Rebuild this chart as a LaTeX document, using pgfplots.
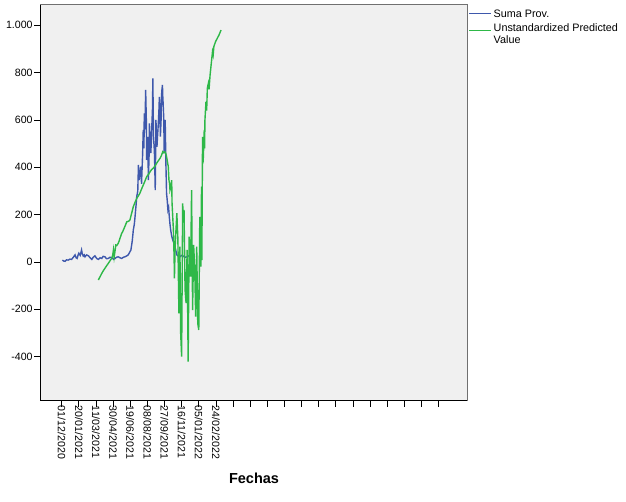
\documentclass[border=0pt]{standalone}
\usepackage{pgfplots}
\pgfplotsset{compat=1.18}
\usepackage{fontspec}
\setmainfont{Liberation Sans}
\definecolor{spssblue}{RGB}{62,88,172}
\definecolor{spssgreen}{RGB}{46,184,72}
\definecolor{plotbg}{RGB}{240,240,240}
\definecolor{framegray}{RGB}{112,112,112}
\pgfplotsset{
  bluelegend/.style={legend image code/.code={\draw[##1, line width=0.8pt] (0pt,1pt) -- (22pt,1pt);}},
  greenlegend/.style={legend image code/.code={\draw[##1, line width=0.8pt] (0pt,4pt) -- (22pt,4pt);}},
}
\begin{document}
\begin{tikzpicture}[x=1pt,y=1pt]
\path[use as bounding box] (0,0) rectangle (626,501);
\begin{axis}[
  at={(40.3pt,100.3pt)}, anchor=south west,
  scale only axis, width=427.4pt, height=396pt,
  xmin=-62.4, xmax=1184.7, ymin=-586, ymax=1087,
  axis lines*=left,
  axis line style={black, line width=0.8pt},
  axis background/.style={fill=plotbg},
  tick align=outside, major tick length=6pt,
  tick style={black, line width=0.8pt},
  xtick={0,50,...,1100},
  xticklabels={01/12/2020,20/01/2021,11/03/2021,30/04/2021,19/06/2021,08/08/2021,27/09/2021,16/11/2021,05/01/2022,24/02/2022},
  ytick={-400,-200,0,200,400,600,800,1000},
  yticklabels={-400,-200,0,200,400,600,800,1.000},
  tick label style={font=\fontsize{10.6}{12}\selectfont},
  xticklabel style={rotate=-90, anchor=west, inner sep=1pt, xshift=-2pt},
  yticklabel style={inner sep=1.5pt},
  xlabel={Fechas},
  xlabel style={font=\bfseries\fontsize{14.5}{16}\selectfont, at={(axis description cs:0.5,0)}, anchor=center, yshift=-77.3pt},
  legend style={at={(axis description cs:1,1)}, anchor=north west, draw=none, fill=none,
     font=\fontsize{10.8}{11.7}\selectfont, inner xsep=0pt, inner ysep=0pt, xshift=1pt, yshift=-3pt,
     cells={anchor=west, align=left}, row sep=1pt},
  legend cell align=left,
  clip=false,
]
\addplot[spssblue, line width=1.4pt, bluelegend] coordinates {
(2,8) (6,4) (10,3) (14,9) (19,8) (24,12) (29,11) (34,20) (39,30) (42,18) (45,15) (48,30) (50,37) (54,28) (58,51) (60,35) (63,25) (66,30) (68,22) (73,30) (78,26) (83,18) (88,11) (92,20) (97,26) (102,15) (107,11) (112,18) (117,15) (121,24) (126,22) (131,14) (136,15) (141,20) (146,18) (151,12) (156,15) (160,20) (165,22) (170,18) (175,15) (180,20) (185,22) (190,26) (194,30) (198,40) (202,51) (206,90) (209,135) (212,160) (214,191) (217,240) (219,276) (222,300) (224,410) (226,346) (229,380) (231,403) (233,330) (236,450) (238,558) (240,480) (241,628) (243,560) (245,727) (247,600) (248,431) (250,480) (251,529) (253,346) (255,450) (256,586) (258,520) (260,460) (262,520) (263,572) (265,650) (266,776) (267,640) (268,529) (270,480) (271,445) (273,304) (275,600) (276,560) (278,487) (280,540) (282,586) (284,650) (285,698) (287,600) (288,530) (290,600) (291,684) (292,720) (294,748) (295,700) (296,670) (298,600) (299,459) (301,520) (302,600) (304,420) (306,290) (308,260) (310,220) (312,230) (314,191) (316,160) (318,135) (321,110) (324,93) (326,85) (328,79) (332,55) (336,30) (340,25) (345,22) (350,28) (355,25) (360,20) (366,22) (371,26) (377,28) (383,22) (389,24)
};
\addlegendentry{Suma Prov.}
\addplot[spssgreen, line width=1.4pt, greenlegend] coordinates {
(107,-76) (112,-62) (117,-48) (121,-38) (126,-27) (131,-16) (136,-6) (141,5) (146,16) (149,30) (151,51) (153,20) (155,40) (158,72) (161,70) (165,79) (168,90) (170,100) (173,112) (175,121) (178,128) (180,135) (185,152) (190,170) (195,172) (199,177) (204,205) (209,234) (214,252) (219,269) (224,280) (228,290) (233,308) (238,325) (243,342) (248,360) (253,370) (258,381) (262,390) (267,396) (272,405) (277,417) (282,428) (287,438) (291,450) (295,466) (298,462) (301,466) (304,458) (306,445) (309,420) (311,403) (313,346) (315,330) (316,304) (319,320) (321,346) (322,250) (324,191) (326,135) (328,20) (329,-69) (331,60) (333,122) (336,206) (339,100) (342,-217) (345,65) (347,-294) (350,-400) (353,248) (355,180) (357,220) (360,-118) (363,-174) (366,51) (369,-421) (372,107) (374,40) (376,-62) (379,304) (382,-203) (385,72) (388,-20) (391,-231) (394,65) (397,-259) (400,-287) (403,191) (406,-20) (408,318) (409,8) (411,529) (412,417) (413,431) (416,558) (417,480) (418,600) (421,677) (423,640) (425,734) (428,755) (430,730) (433,790) (436,832) (440,888) (442,875) (444,910) (449,931) (454,945) (459,959) (465,980)
};
\addlegendentry{Unstandardized Predicted\\Value}
\draw[framegray, line width=0.8pt] (rel axis cs:0,1) -- (rel axis cs:1,1) -- (rel axis cs:1,0);
\end{axis}
\end{tikzpicture}
\end{document}
